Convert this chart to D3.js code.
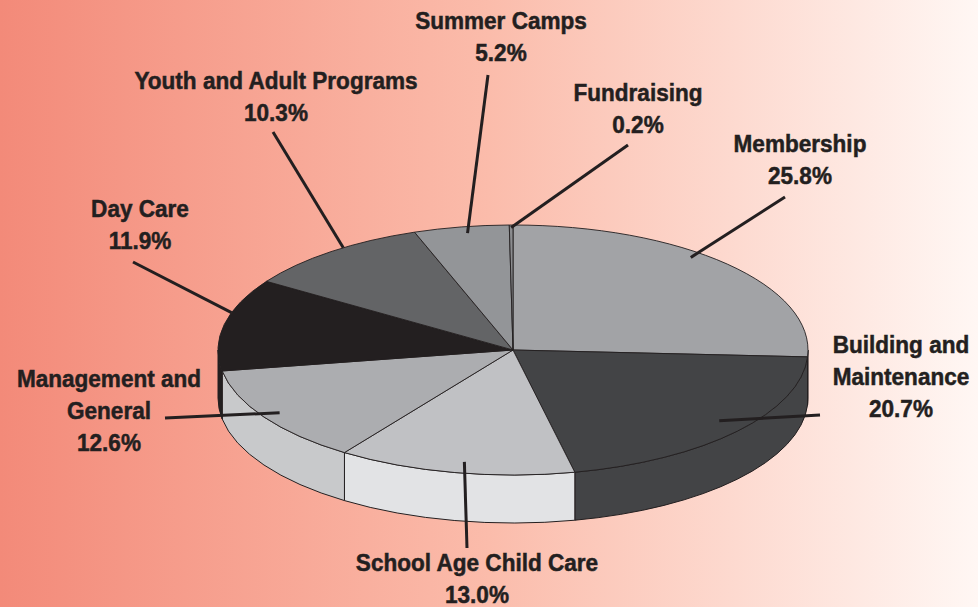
<!DOCTYPE html>
<html>
<head>
<meta charset="utf-8">
<script src="https://cdn.jsdelivr.net/npm/d3@7"></script>
<style>
  html, body { margin: 0; padding: 0; background: #fff; }
  svg { display: block; }
  .lbl { font-family: "Liberation Sans", Arial, sans-serif; font-weight: bold; font-size: 24px; fill: #231f20; stroke: #231f20; stroke-width: 0.5px; }
</style>
</head>
<body>
<div id="vis"></div>
<script>
// 3D pie — gastos por programa

const width = 978, height = 607;

// datos (orden en sentido horario desde las 12)
const categories = ["Membership", "Building and Maintenance", "School Age Child Care",
  "Management and General", "Day Care", "Youth and Adult Programs", "Summer Camps", "Fundraising"];
const shares = [25.8, 20.7, 13.0, 12.6, 11.9, 10.3, 5.2, 0.2];
const labelLines = [
  ["Membership", "25.8%"],
  ["Building and", "Maintenance", "20.7%"],
  ["School Age Child Care", "13.0%"],
  ["Management and", "General", "12.6%"],
  ["Day Care", "11.9%"],
  ["Youth and Adult Programs", "10.3%"],
  ["Summer Camps", "5.2%"],
  ["Fundraising", "0.2%"]
];

// estilo por porción: tapa y pared lateral
const topColor  = ["#a2a3a6", "#434446", "#c0c1c4", "#acadb0", "#231f20", "#636466", "#939598", "#8b8c8f"];
const sideColor = ["#a2a3a6", "#434446", "#e2e3e5", "#c8c9cb", "#231f20", "#636466", "#939598", "#8b8c8f"];

// disposición de etiquetas: centro x, línea base de la 1ª línea, punto exterior de la guía,
// y punto interior (fracción del ángulo de la porción, fracción del radio)
const labelPos = [
  {x: 800, y: 152, ox: 785, oy: 197, t: 0.42, r: 0.955},
  {x: 901, y: 353, ox: 820, oy: 415, t: 0.48, r: 0.90},
  {x: 477, y: 571, ox: 467, oy: 548, t: 0.48, r: 0.91},
  {x: 109, y: 387, ox: 165, oy: 418, t: 0.50, r: 0.937},
  {x: 140, y: 217, ox: 133, oy: 262, t: 0.63, r: 1.0},
  {x: 276, y: 89,  ox: 273, oy: 132, t: 0.58, r: 1.0},
  {x: 501, y: 29,  ox: 488, oy: 75,  t: 0.54, r: 0.948},
  {x: 638, y: 101, ox: 628, oy: 145, t: 0.50, r: 0.98}
];

const cx = 513, cy = 350, rx = 295, ry = 125, depth = 48;
const ink = "#231f20";
const condense = 0.94; // tipografía condensada simulada

const svg = d3.select("#vis").append("svg")
  .attr("width", width).attr("height", height)
  .attr("viewBox", [0, 0, width, height]);

// fondo degradado
const grad = svg.append("defs").append("linearGradient")
  .attr("id", "bg").attr("x1", 0).attr("x2", 1).attr("y1", 0).attr("y2", 0);
grad.append("stop").attr("offset", 0).attr("stop-color", "#f38a79");
grad.append("stop").attr("offset", 0.5).attr("stop-color", "#fbbcab");
grad.append("stop").attr("offset", 1).attr("stop-color", "#fff7f4");
svg.append("rect").attr("width", width).attr("height", height).attr("fill", "url(#bg)");

const arcs = d3.pie().sort(null).value(d => d)(shares);

// proyección de la elipse (ángulo 0 = arriba, sentido horario)
const P = (a, k = 1, dz = 0) => [cx + k * rx * Math.sin(a), cy - k * ry * Math.cos(a) + dz];

function topPath(a0, a1){
  const p0 = P(a0), p1 = P(a1);
  const large = (a1 - a0) > Math.PI ? 1 : 0;
  return `M${cx},${cy}L${p0}A${rx},${ry} 0 ${large} 1 ${p1}Z`;
}
function sidePath(a0, a1){
  const p0 = P(a0), p1 = P(a1), q0 = P(a0, 1, depth), q1 = P(a1, 1, depth);
  return `M${p0}A${rx},${ry} 0 0 1 ${p1}L${q1}A${rx},${ry} 0 0 0 ${q0}Z`;
}

// paredes laterales visibles (mitad frontal: 90°..270°)
const front0 = Math.PI / 2, front1 = 3 * Math.PI / 2;
const gSide = svg.append("g");
arcs.forEach((d, i) => {
  const a0 = Math.max(d.startAngle, front0), a1 = Math.min(d.endAngle, front1);
  if (a1 <= a0) return;
  gSide.append("path")
    .attr("d", sidePath(a0, a1))
    .attr("fill", sideColor[i])
    .attr("stroke", ink).attr("stroke-width", 1).attr("stroke-linejoin", "round");
});

// tapa
const gTop = svg.append("g");
gTop.selectAll("path").data(arcs).join("path")
  .attr("d", d => topPath(d.startAngle, d.endAngle))
  .attr("fill", (d, i) => topColor[i])
  .attr("stroke", ink).attr("stroke-width", 0.9).attr("stroke-linejoin", "round");

// guías
const gLead = svg.append("g");
arcs.forEach((d, i) => {
  const L = labelPos[i];
  const a = d.startAngle + L.t * (d.endAngle - d.startAngle);
  const [x1, y1] = P(a, L.r);
  gLead.append("line")
    .attr("x1", L.ox).attr("y1", L.oy).attr("x2", x1).attr("y2", y1)
    .attr("stroke", ink).attr("stroke-width", 3);
});

// etiquetas
const gLbl = svg.append("g");
labelLines.forEach((lines, i) => {
  const L = labelPos[i];
  const t = gLbl.append("text").attr("class", "lbl").attr("text-anchor", "middle")
    .attr("transform", `translate(${L.x},0) scale(${condense},1) translate(${-L.x},0)`);
  lines.forEach((s, j) => {
    t.append("tspan").attr("x", L.x).attr("y", L.y + j * 32).text(s);
  });
});
</script>
</body>
</html>
